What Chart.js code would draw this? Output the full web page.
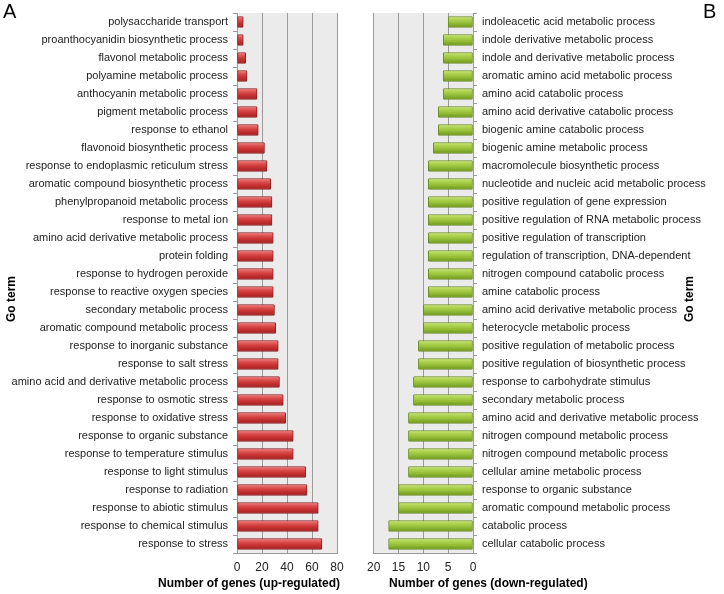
<!DOCTYPE html>
<html>
<head>
<meta charset="utf-8">
<script src="https://cdn.jsdelivr.net/npm/chart.js@4"></script>
<style>
  body { margin: 0; background: #fff; font-family: "Liberation Sans", Arial, sans-serif; }
  #wrap { position: relative; width: 724px; height: 594px; }
  canvas { position: absolute; top: 0; }
  .txt { position: absolute; color: #000; white-space: nowrap; }
  .panel { font-size: 20px; top: 0; }
  .axtitle { font-size: 12px; font-weight: bold; top: 576px; }
  .goterm { font-size: 12px; font-weight: bold; top: 292px; transform: rotate(-90deg); transform-origin: center; }
</style>
</head>
<body>
<div id="wrap">
  <canvas id="left" width="360" height="594" style="left:0;width:360px;height:594px"></canvas>
  <canvas id="right" width="364" height="594" style="left:360px;width:364px;height:594px"></canvas>
  <div class="txt panel" style="left:3px">A</div>
  <div class="txt panel" style="left:703px">B</div>
  <div class="txt goterm" style="left:-12px">Go term</div>
  <div class="txt goterm" style="left:666px">Go term</div>
  <div class="txt axtitle" style="left:158px">Number of genes (up-regulated)</div>
  <div class="txt axtitle" style="left:389px">Number of genes (down-regulated)</div>
</div>
<script>
const upTerms = ['polysaccharide transport', 'proanthocyanidin biosynthetic process',
  'flavonol metabolic process', 'polyamine metabolic process', 'anthocyanin metabolic process',
  'pigment metabolic process', 'response to ethanol', 'flavonoid biosynthetic process',
  'response to endoplasmic reticulum stress', 'aromatic compound biosynthetic process',
  'phenylpropanoid metabolic process', 'response to metal ion', 'amino acid derivative metabolic process',
  'protein folding', 'response to hydrogen peroxide', 'response to reactive oxygen species',
  'secondary metabolic process', 'aromatic compound metabolic process', 'response to inorganic substance',
  'response to salt stress', 'amino acid and derivative metabolic process', 'response to osmotic stress',
  'response to oxidative stress', 'response to organic substance', 'response to temperature stimulus',
  'response to light stimulus', 'response to radiation', 'response to abiotic stimulus',
  'response to chemical stimulus', 'response to stress'];
const upCounts = [5, 5, 7, 8, 16, 16, 17, 22, 24, 27, 28, 28, 29, 29, 29, 29, 30, 31, 33, 33,
  34, 37, 39, 45, 45, 55, 56, 65, 65, 68];
const upTicks = [0, 20, 40, 60, 80];

const downTerms = ['indoleacetic acid metabolic process', 'indole derivative metabolic process',
  'indole and derivative metabolic process', 'aromatic amino acid metabolic process',
  'amino acid catabolic process', 'amino acid derivative catabolic process',
  'biogenic amine catabolic process', 'biogenic amine metabolic process',
  'macromolecule biosynthetic process', 'nucleotide and nucleic acid metabolic process',
  'positive regulation of gene expression', 'positive regulation of RNA metabolic process',
  'positive regulation of transcription', 'regulation of transcription, DNA-dependent',
  'nitrogen compound catabolic process', 'amine catabolic process',
  'amino acid derivative metabolic process', 'heterocycle metabolic process',
  'positive regulation of metabolic process', 'positive regulation of biosynthetic process',
  'response to carbohydrate stimulus', 'secondary metabolic process',
  'amino acid and derivative metabolic process', 'nitrogen compound metabolic process',
  'nitrogen compound metabolic process', 'cellular amine metabolic process',
  'response to organic substance', 'aromatic compound metabolic process',
  'catabolic process', 'cellular catabolic process'];
const downCounts = [5, 6, 6, 6, 6, 7, 7, 8, 9, 9, 9, 9, 9, 9, 9, 9, 10, 10, 11, 11, 12, 12,
  13, 13, 13, 13, 15, 15, 17, 17];
const downTicks = [20, 15, 10, 5, 0];

const FONT = '"Liberation Sans", Arial, sans-serif';

const plotBg = {
  id: 'plotBg',
  beforeDraw(chart) {
    const a = chart.chartArea, c = chart.ctx;
    c.save();
    c.fillStyle = '#ebebeb';
    c.fillRect(a.left, a.top, a.right - a.left, a.bottom - a.top);
    c.restore();
  }
};

function barGradient(stops, solid) {
  return function (ctx) {
    const chart = ctx.chart;
    const y = chart.scales && chart.scales.y;
    if (!chart.chartArea || !y || ctx.dataIndex === undefined) return solid;
    const cy = y.getPixelForValue(ctx.dataIndex);
    const g = chart.ctx.createLinearGradient(0, cy - 6, 0, cy + 6);
    g.addColorStop(0, stops[0]);
    g.addColorStop(0.25, stops[1]);
    g.addColorStop(0.55, stops[2]);
    g.addColorStop(1, stops[3]);
    return g;
  };
}

function makeChart(id, terms, counts, ticks, opts) {
  const maxV = Math.max(...ticks);
  return new Chart(document.getElementById(id), {
    type: 'bar',
    data: {
      labels: terms,
      datasets: [{
        data: counts,
        backgroundColor: barGradient(opts.stops, opts.stops[2]),
        borderColor: opts.border,
        borderWidth: 1,
        borderRadius: 1,
        borderSkipped: false,
        barThickness: 11
      }]
    },
    plugins: [plotBg],
    options: {
      indexAxis: 'y',
      responsive: false,
      animation: false,
      layout: { padding: opts.padding },
      plugins: { legend: { display: false }, tooltip: { enabled: false } },
      scales: {
        x: {
          min: 0, max: maxV, reverse: opts.reverse,
          afterBuildTicks(s) { s.ticks = ticks.map(v => ({ value: v })); },
          afterFit(s) { s.height = 41; },
          grid: { color: '#9a9a9a', lineWidth: 1, drawTicks: false },
          border: { display: true, color: '#9a9a9a' },
          ticks: { color: '#222', padding: 7, font: { family: FONT, size: 12 } }
        },
        y: {
          position: opts.yPos,
          afterFit(s) { s.width = opts.yWidth; },
          grid: { display: true, drawOnChartArea: false, color: '#9a9a9a', tickLength: 4, offset: true },
          border: { display: true, color: '#9a9a9a' },
          ticks: { color: '#222', padding: 5, autoSkip: false, font: { family: FONT, size: 11 } }
        }
      }
    }
  });
}

makeChart('left', upTerms, upCounts, upTicks, {
  stops: ['#f3a0a0', '#e05a5a', '#cc3535', '#9c1f1f'],
  border: '#8e2020',
  reverse: false,
  yPos: 'left',
  yWidth: 237,
  padding: { left: 0, right: 23, top: 13, bottom: 0 }
});

makeChart('right', downTerms, downCounts, downTicks, {
  stops: ['#dcef9a', '#b2d555', '#98c03a', '#6a931c'],
  border: '#6b8c22',
  reverse: true,
  yPos: 'right',
  yWidth: 251,
  padding: { left: 10, right: 0, top: 13, bottom: 0 }
});
</script>
</body>
</html>
